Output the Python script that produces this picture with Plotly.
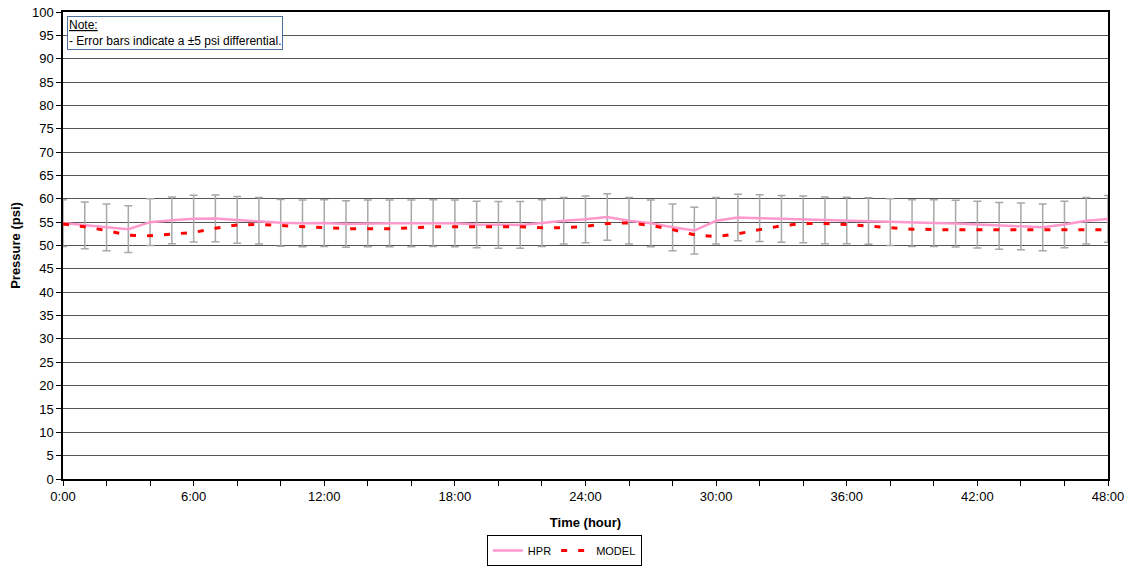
import plotly.graph_objects as go

hours = list(range(0, 49))
hpr = [54.8, 54.3, 53.9, 53.5, 55.0, 55.4, 55.75, 55.8, 55.5, 55.3, 54.85, 54.75,
       54.8, 54.6, 54.75, 54.75, 54.75, 54.8, 54.75, 54.5, 54.4, 54.4, 54.8, 55.3,
       55.6, 56.1, 55.3, 54.75, 53.9, 53.2, 55.3, 56.0, 55.85, 55.7, 55.6, 55.4,
       55.35, 55.25, 55.0, 54.8, 54.8, 54.7, 54.45, 54.2, 54.1, 53.9, 54.5, 55.3, 55.7]
model = [54.6, 54.0, 53.2, 52.2, 52.1, 52.4, 52.8, 53.7, 54.4, 54.5, 54.3, 54.1,
         53.8, 53.6, 53.6, 53.6, 53.8, 54.0, 54.0, 54.0, 54.0, 54.0, 53.8, 53.8,
         54.1, 54.7, 54.85, 54.3, 53.4, 52.3, 51.9, 52.5, 53.4, 54.2, 54.7, 54.7,
         54.5, 54.1, 53.8, 53.5, 53.35, 53.35, 53.35, 53.35, 53.35, 53.35, 53.2, 53.2, 53.35]
err = 5
x_tickvals = list(range(0, 49, 2))
x_ticktext = [f"{h}:00" if h % 6 == 0 else "" for h in x_tickvals]
y_tickvals = list(range(0, 101, 5))

font = "Liberation Sans, Arial, sans-serif"

fig = go.Figure()
fig.add_trace(go.Scatter(
    x=hours, y=hpr, mode="lines", line=dict(color="rgba(0,0,0,0)", width=0),
    error_y=dict(type="constant", value=err, color="#a8a8a8", thickness=1.5, width=4),
    showlegend=False, hoverinfo="skip"))
fig.add_trace(go.Scatter(
    x=hours, y=hpr, mode="lines", name="HPR",
    line=dict(color="#ff99cc", width=2.5)))
fig.add_trace(go.Scatter(
    x=hours, y=model, mode="lines", name="MODEL",
    line=dict(color="#ff0000", width=3, dash="6px,11px")))

fig.update_layout(
    width=1131, height=568,
    margin=dict(l=63, r=23, t=12, b=89, autoexpand=False),
    paper_bgcolor="white", plot_bgcolor="white",
    font=dict(family=font, size=13, color="black"),
    showlegend=True,
    legend=dict(orientation="h", x=0.499, y=2 / 568, xref="container", yref="container",
                xanchor="center", yanchor="bottom",
                bordercolor="black", borderwidth=1, font=dict(size=11, family=font),
                bgcolor="white", itemwidth=30, tracegroupgap=0),
    xaxis=dict(range=[0, 48], tickvals=x_tickvals, ticktext=x_ticktext,
               ticks="outside", ticklen=5, tickcolor="black", showgrid=False,
               showline=True, linecolor="black", linewidth=1.5, mirror=True,
               zeroline=False,
               title=dict(text="<b>Time (hour)</b>", font=dict(size=13), standoff=15),
               tickfont=dict(size=13)),
    yaxis=dict(range=[0, 100], tickvals=y_tickvals, ticks="outside", ticklen=5,
               tickcolor="black", showgrid=True, gridcolor="#555555", gridwidth=1,
               showline=True, linecolor="black", linewidth=1.5, mirror=True,
               zeroline=False,
               title=dict(text="<b>Pressure (psi)</b>", font=dict(size=13), standoff=8),
               tickfont=dict(size=13)),
    annotations=[dict(
        xref="paper", yref="paper", x=0.004, y=0.991, xanchor="left", yanchor="top",
        text="<u>Note:</u><br>- Error bars indicate a ±5 psi differential.",
        showarrow=False, align="left", font=dict(size=12, family=font),
        bordercolor="#4f6f9f", borderwidth=1, bgcolor="white", borderpad=1)],
)

fig.write_html("out.html", config={"displayModeBar": False},
               post_script="document.body.style.margin='0';")
